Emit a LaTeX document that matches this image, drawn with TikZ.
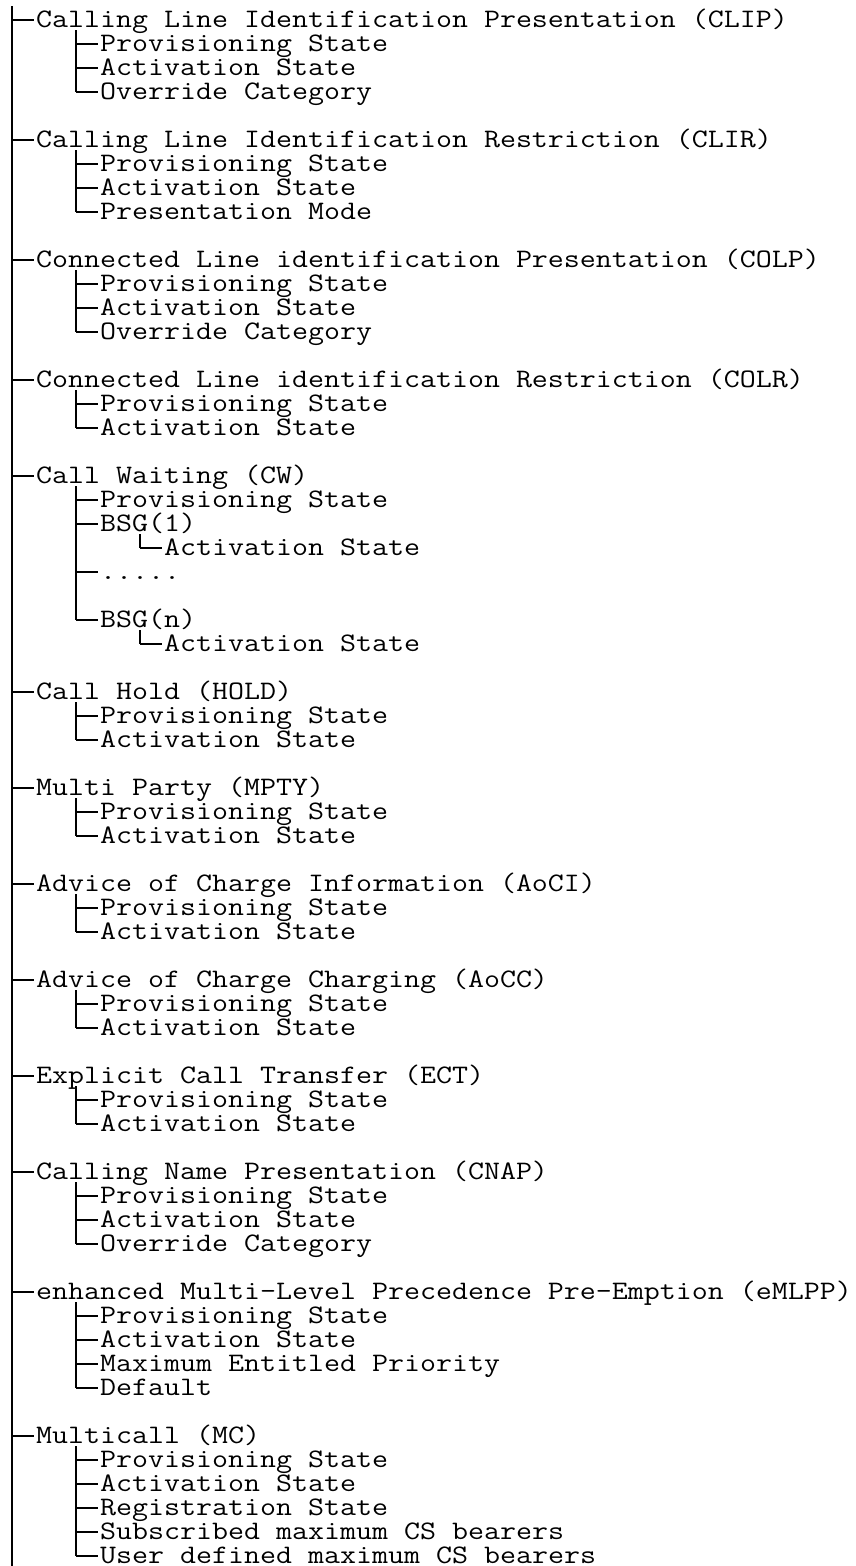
\documentclass[tikz,border=0pt]{standalone}
\usepackage{fontspec}
\newcommand\treefont{\ttfamily\fontsize{26.67}{24}\selectfont}
\tikzset{
  lbl/.style={anchor=base west, inner sep=0pt, outer sep=0pt, font=\treefont},
  tree/.style={line width=1.4pt, line cap=butt},
}
% #1 name, #2 x of text start, #3 line index, #4 text
\newcommand\trow[4]{\node[lbl] (#1) at (#2,{27+24*#3}) {\scalebox{\sx}[1]{#4}};\coordinate (#1t) at ({#2-2},{20+24*#3});}
% tick from bar #2 to row #1
\newcommand\tk[2]{\draw[tree] (#1t -| #2) -- (#1t);}
% sub bar: #1 name, #2 x, #3 first line index
\newcommand\sbar[3]{\coordinate (#1) at (#2,{6+24*#3});}
\begin{document}
\setbox0\hbox{\treefont x}
\pgfmathsetmacro\sx{16/(\the\wd0)}
\begin{tikzpicture}[x=1pt,y=-1pt]
\useasboundingbox (0,0) rectangle (856,1566);
\coordinate (mb) at (12,6);
\coordinate (mbe) at (12,1566);
\draw[tree] (mb) -- (mbe);
% CLIP
\trow{L0}{36}{0}{Calling Line Identification Presentation (CLIP)}
\trow{L1}{100}{1}{Provisioning State}
\trow{L2}{100}{2}{Activation State}
\trow{L3}{100}{3}{Override Category}
\tk{L0}{mb}
\sbar{s0}{76}{1}\draw[tree] (s0) -- (L3t -| s0);
\tk{L1}{s0}\tk{L2}{s0}\tk{L3}{s0}
% CLIR
\trow{L5}{36}{5}{Calling Line Identification Restriction (CLIR)}
\trow{L6}{100}{6}{Provisioning State}
\trow{L7}{100}{7}{Activation State}
\trow{L8}{100}{8}{Presentation Mode}
\tk{L5}{mb}
\sbar{s5}{76}{6}\draw[tree] (s5) -- (L8t -| s5);
\tk{L6}{s5}\tk{L7}{s5}\tk{L8}{s5}
% COLP
\trow{L10}{36}{10}{Connected Line identification Presentation (COLP)}
\trow{L11}{100}{11}{Provisioning State}
\trow{L12}{100}{12}{Activation State}
\trow{L13}{100}{13}{Override Category}
\tk{L10}{mb}
\sbar{s10}{76}{11}\draw[tree] (s10) -- (L13t -| s10);
\tk{L11}{s10}\tk{L12}{s10}\tk{L13}{s10}
% COLR
\trow{L15}{36}{15}{Connected Line identification Restriction (COLR)}
\trow{L16}{100}{16}{Provisioning State}
\trow{L17}{100}{17}{Activation State}
\tk{L15}{mb}
\sbar{s15}{76}{16}\draw[tree] (s15) -- (L17t -| s15);
\tk{L16}{s15}\tk{L17}{s15}
% CW
\trow{L19}{36}{19}{Call Waiting (CW)}
\trow{L20}{100}{20}{Provisioning State}
\trow{L21}{100}{21}{BSG(1)}
\trow{L22}{164}{22}{Activation State}
\trow{L23}{100}{23}{.....}
\trow{L25}{100}{25}{BSG(n)}
\trow{L26}{164}{26}{Activation State}
\tk{L19}{mb}
\sbar{s19}{76}{20}\draw[tree] (s19) -- (L25t -| s19);
\tk{L20}{s19}\tk{L21}{s19}\tk{L23}{s19}\tk{L25}{s19}
\sbar{s21}{140}{22}\draw[tree] (s21) -- (L22t -| s21);
\tk{L22}{s21}
\sbar{s25}{140}{26}\draw[tree] (s25) -- (L26t -| s25);
\tk{L26}{s25}
% HOLD
\trow{L28}{36}{28}{Call Hold (HOLD)}
\trow{L29}{100}{29}{Provisioning State}
\trow{L30}{100}{30}{Activation State}
\tk{L28}{mb}
\sbar{s28}{76}{29}\draw[tree] (s28) -- (L30t -| s28);
\tk{L29}{s28}\tk{L30}{s28}
% MPTY
\trow{L32}{36}{32}{Multi Party (MPTY)}
\trow{L33}{100}{33}{Provisioning State}
\trow{L34}{100}{34}{Activation State}
\tk{L32}{mb}
\sbar{s32}{76}{33}\draw[tree] (s32) -- (L34t -| s32);
\tk{L33}{s32}\tk{L34}{s32}
% AoCI
\trow{L36}{36}{36}{Advice of Charge Information (AoCI)}
\trow{L37}{100}{37}{Provisioning State}
\trow{L38}{100}{38}{Activation State}
\tk{L36}{mb}
\sbar{s36}{76}{37}\draw[tree] (s36) -- (L38t -| s36);
\tk{L37}{s36}\tk{L38}{s36}
% AoCC
\trow{L40}{36}{40}{Advice of Charge Charging (AoCC)}
\trow{L41}{100}{41}{Provisioning State}
\trow{L42}{100}{42}{Activation State}
\tk{L40}{mb}
\sbar{s40}{76}{41}\draw[tree] (s40) -- (L42t -| s40);
\tk{L41}{s40}\tk{L42}{s40}
% ECT
\trow{L44}{36}{44}{Explicit Call Transfer (ECT)}
\trow{L45}{100}{45}{Provisioning State}
\trow{L46}{100}{46}{Activation State}
\tk{L44}{mb}
\sbar{s44}{76}{45}\draw[tree] (s44) -- (L46t -| s44);
\tk{L45}{s44}\tk{L46}{s44}
% CNAP
\trow{L48}{36}{48}{Calling Name Presentation (CNAP)}
\trow{L49}{100}{49}{Provisioning State}
\trow{L50}{100}{50}{Activation State}
\trow{L51}{100}{51}{Override Category}
\tk{L48}{mb}
\sbar{s48}{76}{49}\draw[tree] (s48) -- (L51t -| s48);
\tk{L49}{s48}\tk{L50}{s48}\tk{L51}{s48}
% eMLPP
\trow{L53}{36}{53}{enhanced Multi-Level Precedence Pre-Emption (eMLPP)}
\trow{L54}{100}{54}{Provisioning State}
\trow{L55}{100}{55}{Activation State}
\trow{L56}{100}{56}{Maximum Entitled Priority}
\trow{L57}{100}{57}{Default}
\tk{L53}{mb}
\sbar{s53}{76}{54}\draw[tree] (s53) -- (L57t -| s53);
\tk{L54}{s53}\tk{L55}{s53}\tk{L56}{s53}\tk{L57}{s53}
% MC
\trow{L59}{36}{59}{Multicall (MC)}
\trow{L60}{100}{60}{Provisioning State}
\trow{L61}{100}{61}{Activation State}
\trow{L62}{100}{62}{Registration State}
\trow{L63}{100}{63}{Subscribed maximum CS bearers}
\trow{L64}{100}{64}{User defined maximum CS bearers}
\tk{L59}{mb}
\sbar{s59}{76}{60}\draw[tree] (s59) -- (L64t -| s59);
\tk{L60}{s59}\tk{L61}{s59}\tk{L62}{s59}\tk{L63}{s59}\tk{L64}{s59}
\end{tikzpicture}
\end{document}
